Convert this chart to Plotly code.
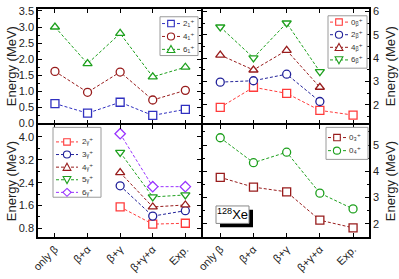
import plotly.graph_objects as go

# ---------------- data ----------------
models = ["only β", "β+α", "β+γ", "β+γ+α", "Exp."]

# top-left: ground band
g2 = [0.62, 0.32, 0.66, 0.25, 0.44]
g4 = [1.62, 0.97, 1.60, 0.73, 1.03]
g6 = [3.00, 1.86, 2.80, 1.45, 1.75]

# top-right: beta band
b0 = [1.89, 2.75, 2.49, 1.76, 1.56]
b2 = [2.97, 3.03, 3.31, 2.14, None]
b4 = [4.13, 3.49, 4.33, 2.75, None]
b6 = [5.33, 4.01, 5.50, 3.42, None]

# bottom-left: gamma band
y2 = [None, None, 1.55, 0.95, 0.98]
y3 = [None, None, 2.29, 1.23, 1.42]
y4 = [None, None, 2.75, 1.55, 1.62]
y5 = [None, None, 3.46, 1.90, 1.97]
y6 = [None, None, 4.11, 2.26, 2.26]

# bottom-right: higher 0+ states
z3 = [3.77, 3.40, 3.22, 2.14, 1.85]
z4 = [5.28, 4.33, 4.73, 3.17, 2.57]

FONT = "Liberation Sans, Arial, DejaVu Sans, sans-serif"
RED = "#ff3b3b"
NAVY = "#22229a"
BLUE = "#3030c0"
DRED = "#981c1c"
GREEN = "#1ea01e"
VIOL = "#9933ff"
DASH = "3px,2px"

W, H = 399, 279
ML, MR, MT, MB = 38, 30, 5, 39
PW = W - ML - MR
PH = H - MT - MB

def px(x):  # page pixel -> paper
    return (x - ML) / PW

def py(y):
    return (H - MB - y) / PH

fig = go.Figure()

def add(y, name, color, symbol, xa, ya):
    fig.add_trace(go.Scatter(
        x=models, y=y, name=name, mode="lines+markers",
        line=dict(color=color, width=1, dash=DASH),
        marker=dict(symbol=symbol, size=8, color="white",
                    line=dict(color=color, width=1.3)),
        xaxis=xa, yaxis=ya, connectgaps=False, showlegend=False))

panels = [
    ("x", "y", [(g2, "2₁⁺", BLUE, "square"), (g4, "4₁⁺", DRED, "circle"),
                (g6, "6₁⁺", GREEN, "triangle-up")]),
    ("x2", "y2", [(b0, "0ᵦ⁺", RED, "square"), (b2, "2ᵦ⁺", NAVY, "circle"),
                  (b4, "4ᵦ⁺", DRED, "triangle-up"), (b6, "6ᵦ⁺", GREEN, "triangle-down")]),
    ("x3", "y3", [(y2, "2ᵧ⁺", RED, "square"), (y3, "3ᵧ⁺", NAVY, "circle"),
                  (y4, "4ᵧ⁺", DRED, "triangle-up"), (y5, "5ᵧ⁺", GREEN, "triangle-down"),
                  (y6, "6ᵧ⁺", VIOL, "diamond")]),
    ("x4", "y4", [(z3, "0₃⁺", DRED, "square"), (z4, "0₄⁺", GREEN, "circle")]),
]
for xa, ya, series in panels:
    for s in series:
        add(s[0], s[1], s[2], s[3], xa, ya)

XL = [px(38), px(201)]
XR = [px(203), px(369)]
YT = [py(123), py(5)]
YB = [py(240), py(125)]

common = dict(showline=True, linecolor="black", linewidth=1.5, mirror="ticks",
              ticks="inside", ticklen=4, tickwidth=1, tickcolor="black",
              showgrid=False, zeroline=False,
              tickfont=dict(family=FONT, size=11, color="#222"))
xcommon = dict(common, type="category", range=[-0.52, 4.48])
minor = dict(ticks="inside", ticklen=2, tickcolor="black")

fig.update_layout(
    width=W, height=H,
    margin=dict(l=ML, r=MR, t=MT, b=MB),
    paper_bgcolor="white", plot_bgcolor="white",
    font=dict(family=FONT, color="#222"),
    showlegend=False,
    xaxis=dict(xcommon, domain=XL, anchor="y", showticklabels=False),
    xaxis2=dict(xcommon, domain=XR, anchor="y2", showticklabels=False),
    xaxis3=dict(xcommon, domain=XL, anchor="y3", tickangle=-45),
    xaxis4=dict(xcommon, domain=XR, anchor="y4", tickangle=-45),
    yaxis=dict(common, domain=YT, anchor="x", range=[0, 3.56], dtick=0.5,
               tickformat=".1f", minor=dict(minor, dtick=0.25)),
    yaxis2=dict(common, domain=YT, anchor="x2", side="right", range=[1.2, 6.1],
                dtick=1, tick0=0, minor=dict(minor, dtick=0.5)),
    yaxis3=dict(common, domain=YB, anchor="x3", range=[0.5, 4.4], dtick=0.8,
                tick0=0, tickformat=".1f", minor=dict(minor, dtick=0.4)),
    yaxis4=dict(common, domain=YB, anchor="x4", side="right", range=[1.5, 5.75],
                dtick=1, tick0=0, minor=dict(minor, dtick=0.5)),
)

# ---------------- hand-drawn legends (Origin style) ----------------
def marker_shape(sym, cx, cy, color, r=3.3):
    ln = dict(color=color, width=1.1)
    base = dict(xref="paper", yref="paper", fillcolor="white", line=ln)
    if sym == "square":
        fig.add_shape(type="rect", x0=px(cx - r), x1=px(cx + r),
                      y0=py(cy + r), y1=py(cy - r), **base)
    elif sym == "circle":
        fig.add_shape(type="circle", x0=px(cx - r - 0.3), x1=px(cx + r + 0.3),
                      y0=py(cy + r + 0.3), y1=py(cy - r - 0.3), **base)
    else:
        if sym == "triangle-up":
            pts = [(cx, cy - r - 0.7), (cx + r + 0.6, cy + r), (cx - r - 0.6, cy + r)]
        elif sym == "triangle-down":
            pts = [(cx, cy + r + 0.7), (cx + r + 0.6, cy - r), (cx - r - 0.6, cy - r)]
        else:  # diamond
            pts = [(cx, cy - r - 0.8), (cx + r + 0.8, cy), (cx, cy + r + 0.8), (cx - r - 0.8, cy)]
        path = "M " + " L ".join(f"{px(a):.5f},{py(b):.5f}" for a, b in pts) + " Z"
        fig.add_shape(type="path", path=path, **base)

def legend(series, box, x_line0, x_line1, x_text, y0, dy):
    bx0, by0, bx1, by1 = box
    fig.add_shape(type="rect", xref="paper", yref="paper",
                  x0=px(bx0), x1=px(bx1), y0=py(by1), y1=py(by0),
                  fillcolor="white", line=dict(color="#9a9a9a", width=1))
    for i, s in enumerate(series):
        cy = y0 + i * dy
        fig.add_shape(type="line", xref="paper", yref="paper",
                      x0=px(x_line0), x1=px(x_line1), y0=py(cy), y1=py(cy),
                      line=dict(color=s[2], width=1, dash=DASH))
        marker_shape(s[3], (x_line0 + x_line1) / 2, cy, s[2])
        fig.add_annotation(xref="paper", yref="paper", x=px(x_text), y=py(cy),
                           xanchor="left", yanchor="middle", text=s[1],
                           showarrow=False,
                           font=dict(family=FONT, size=8, color="#333"))

legend(panels[0][2], (160, 13, 198, 53), 162, 180, 181, 20, 13.3)
legend(panels[1][2], (328, 12, 367, 66), 330, 348, 349, 18.5, 13)
legend(panels[2][2], (53, 127, 101, 199), 56, 78, 80, 142, 13)
legend(panels[3][2], (326, 127, 368, 160), 328, 346, 347, 137.5, 13.5)

# axis titles as annotations
tfont = dict(family=FONT, size=13, color="#222")
ymid_t, ymid_b = sum(YT) / 2, sum(YB) / 2
for xpix, yp in [(11, ymid_t), (11, ymid_b), (390, ymid_t), (390, ymid_b)]:
    fig.add_annotation(xref="paper", yref="paper", x=px(xpix), y=yp,
                       xanchor="center", yanchor="middle",
                       text="Energy (MeV)", textangle=-90, showarrow=False,
                       font=tfont)

# 128Xe label box with shadow
fig.add_shape(type="rect", xref="paper", yref="paper",
              x0=px(220), x1=px(253), y0=py(230), y1=py(212),
              fillcolor="black", line=dict(width=0))
fig.add_shape(type="rect", xref="paper", yref="paper",
              x0=px(216), x1=px(249), y0=py(226), y1=py(208),
              fillcolor="white", line=dict(color="#888", width=1))
fig.add_annotation(xref="paper", yref="paper", x=px(232.5), y=py(216.5),
                   xanchor="center", yanchor="middle",
                   text="<sup>128</sup>Xe", showarrow=False,
                   font=dict(family=FONT, size=13, color="black"))

# remove the browser's default 8px body margin so the figure sits at (0, 0)
fig.write_html("out.html",
               config={"displayModeBar": False},
               post_script="document.body.style.margin='0px';"
                           "document.body.style.overflow='hidden';")
